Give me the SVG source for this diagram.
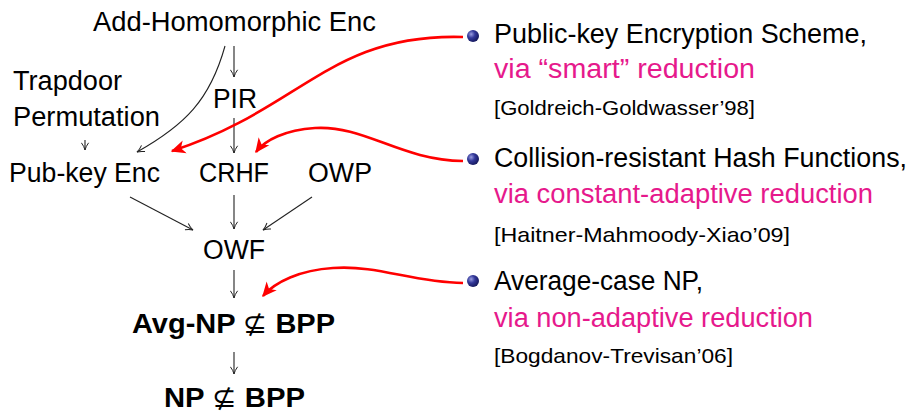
<svg xmlns="http://www.w3.org/2000/svg" width="913" height="415" viewBox="0 0 913 415">
  <style>
    text { font-family: "Liberation Sans", Arial, sans-serif; fill: #000; }
    .node { font-size: 27px; }
    .bold { font-size: 27px; font-weight: bold; }
    .item { font-size: 27px; }
    .via { font-size: 27px; fill: #E6198C; }
    .ref { font-size: 21px; }
    .thin { fill: none; stroke: #222; stroke-width: 1.1; }
    .red { fill: none; stroke: #FF0000; stroke-width: 2.6; }
  </style>
  <defs>
    <marker id="tip" viewBox="0 0 10 10" refX="9" refY="5" markerWidth="9" markerHeight="9" markerUnits="userSpaceOnUse" orient="auto">
      <path d="M1,1 Q5,4 9,5 Q5,6 1,9" fill="none" stroke="#222" stroke-width="1.1"/>
    </marker>
    <marker id="redtip" viewBox="0 0 12 10" refX="10" refY="5" markerWidth="16" markerHeight="14" markerUnits="userSpaceOnUse" orient="auto">
      <path d="M0,0 L11,5 L0,10 L3,5 Z" fill="#FF0000"/>
    </marker>
    <radialGradient id="ball" cx="0.35" cy="0.35" r="0.7">
      <stop offset="0" stop-color="#9a9ee0"/>
      <stop offset="0.45" stop-color="#33389a"/>
      <stop offset="1" stop-color="#14175a"/>
    </radialGradient>
  </defs>

  <!-- implication graph -->
  <g id="addhom"><text class="node" x="93" y="31" textLength="283" lengthAdjust="spacingAndGlyphs">Add-Homomorphic Enc</text></g>
  <g id="trapdoor">
    <text class="node" x="13" y="90" textLength="109" lengthAdjust="spacingAndGlyphs">Trapdoor</text>
    <text class="node" x="13" y="126" textLength="147" lengthAdjust="spacingAndGlyphs">Permutation</text>
  </g>
  <g id="pir"><text class="node" x="213" y="108" textLength="44" lengthAdjust="spacingAndGlyphs">PIR</text></g>
  <g id="pubkey"><text class="node" x="9" y="182" textLength="151" lengthAdjust="spacingAndGlyphs">Pub-key Enc</text></g>
  <g id="crhf"><text class="node" x="199" y="182" textLength="70" lengthAdjust="spacingAndGlyphs">CRHF</text></g>
  <g id="owp"><text class="node" x="308" y="182" textLength="64" lengthAdjust="spacingAndGlyphs">OWP</text></g>
  <g id="owf"><text class="node" x="203" y="259" textLength="62" lengthAdjust="spacingAndGlyphs">OWF</text></g>
  <g id="avgnp"><text class="bold" x="132" y="333" textLength="203" lengthAdjust="spacingAndGlyphs">Avg-NP <tspan font-weight="normal" font-family="DejaVu Sans, sans-serif" font-style="italic">⊈</tspan> BPP</text></g>
  <g id="np"><text class="bold" x="164" y="407" textLength="141" lengthAdjust="spacingAndGlyphs">NP <tspan font-weight="normal" font-family="DejaVu Sans, sans-serif" font-style="italic">⊈</tspan> BPP</text></g>

  <g id="connectors">
    <path class="thin" d="M234,46 V77" marker-end="url(#tip)"/>
    <path class="thin" d="M234,118 V153" marker-end="url(#tip)"/>
    <path class="thin" d="M225,46 C210,100 185,125 137,152" marker-end="url(#tip)"/>
    <path class="thin" d="M85,140 V150" marker-end="url(#tip)"/>
    <path class="thin" d="M130,197 L193,230" marker-end="url(#tip)"/>
    <path class="thin" d="M234,195 V229" marker-end="url(#tip)"/>
    <path class="thin" d="M312,197 L263,230" marker-end="url(#tip)"/>
    <path class="thin" d="M234,270 V298" marker-end="url(#tip)"/>
    <path class="thin" d="M234,352 V374" marker-end="url(#tip)"/>

    <path class="red" d="M463,37 C330,33 300,110 172,151" marker-end="url(#redtip)"/>
    <path class="red" d="M463,161 C400,160 365,125 315,128 C285,130 265,140 256,152" marker-end="url(#redtip)"/>
    <path class="red" d="M463,283 C410,282 380,265 333,268 C300,270 275,282 263,296" marker-end="url(#redtip)"/>
  </g>

  <!-- result list -->
  <g id="item1">
    <circle cx="473" cy="36" r="6" fill="url(#ball)"/>
    <text class="item" x="494" y="43" textLength="373" lengthAdjust="spacingAndGlyphs">Public-key Encryption Scheme,</text>
    <text class="via" x="494" y="78" textLength="261" lengthAdjust="spacingAndGlyphs">via “smart” reduction</text>
    <text class="ref" x="494" y="115" textLength="261" lengthAdjust="spacingAndGlyphs">[Goldreich-Goldwasser’98]</text>
  </g>
  <g id="item2">
    <circle cx="473" cy="159" r="6" fill="url(#ball)"/>
    <text class="item" x="494" y="167" textLength="413" lengthAdjust="spacingAndGlyphs">Collision-resistant Hash Functions,</text>
    <text class="via" x="494" y="203" textLength="379" lengthAdjust="spacingAndGlyphs">via constant-adaptive reduction</text>
    <text class="ref" x="494" y="242" textLength="296" lengthAdjust="spacingAndGlyphs">[Haitner-Mahmoody-Xiao’09]</text>
  </g>
  <g id="item3">
    <circle cx="473" cy="281" r="6" fill="url(#ball)"/>
    <text class="item" x="494" y="290" textLength="209" lengthAdjust="spacingAndGlyphs">Average-case NP,</text>
    <text class="via" x="494" y="327" textLength="319" lengthAdjust="spacingAndGlyphs">via non-adaptive reduction</text>
    <text class="ref" x="494" y="363" textLength="239" lengthAdjust="spacingAndGlyphs">[Bogdanov-Trevisan’06]</text>
  </g>
</svg>
